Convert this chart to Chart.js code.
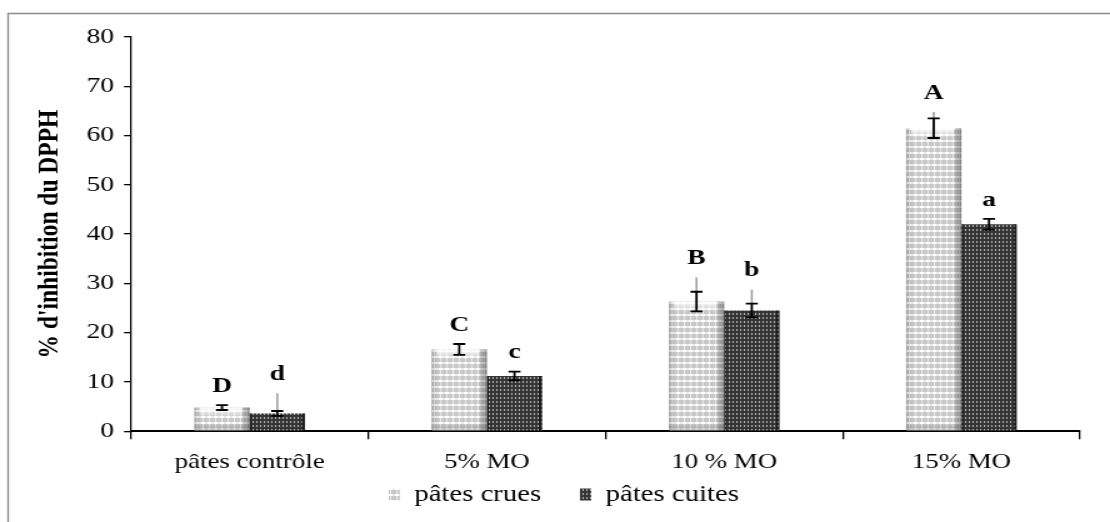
<!DOCTYPE html>
<html>
<head>
<title>DPPH</title>
<script src="https://cdn.jsdelivr.net/npm/chart.js@4.4.0/dist/chart.umd.min.js"></script>
<style>
  html, body { margin: 0; padding: 0; background: #fff; }
</style>
</head>
<body>
<!-- the source picture is stretched sideways, so the canvas is drawn narrow and widened by its inline style -->
<canvas id="dpph" width="888" height="522" style="width:1110px;height:522px"></canvas>
<script>
// data
var categories = ['pâtes contrôle', '5% MO', '10 % MO', '15% MO'];
var crues = [4.8, 16.6, 26.3, 61.5];
var cuites = [3.6, 11.2, 24.5, 42.0];
var errCrues = [0.5, 1.1, 2.0, 2.0];
var errCuites = [0.5, 0.9, 1.4, 1.1];
var greyCrues = [null, null, 31.2, 64.8];   // grey whisker end
var greyCuites = [7.7, null, 28.7, null];
var lettersCrues = ['D', 'C', 'B', 'A'];
var lettersCuites = ['d', 'c', 'b', 'a'];
var yTicks = [0, 10, 20, 30, 40, 50, 60, 70, 80];

var serif = '"Liberation Serif", "Times New Roman", serif';

function makePattern(kind) {
  var c = document.createElement('canvas');
  var g = c.getContext('2d');
  if (kind == 'crues') {
    c.width = 5; c.height = 6;
    g.fillStyle = '#c8c8c8'; g.fillRect(0, 0, 5, 6);
    g.fillStyle = '#e8e8e8';
    g.fillRect(2, 0, 1, 6); g.fillRect(0, 2, 5, 2);
    g.fillStyle = '#ffffff'; g.fillRect(1, 2, 3, 2);
  } else {
    c.width = 3; c.height = 4;
    g.fillStyle = '#353535'; g.fillRect(0, 0, 3, 4);
    g.fillStyle = '#b4b4b4'; g.fillRect(1, 1, 1, 2);
  }
  return g.createPattern(c, 'repeat');
}

// frame around the figure
var framePlugin = {
  id: 'frame',
  beforeDraw: function(chart) {
    var ctx = chart.ctx;
    ctx.save();
    ctx.strokeStyle = '#8a8a8a';
    ctx.lineWidth = 1.3;
    ctx.beginPath();
    ctx.moveTo(6.5, 540); ctx.lineTo(6.5, 13.5); ctx.lineTo(900, 13.5);
    ctx.stroke();
    ctx.restore();
  }
};

// bevel shading, error bars and letters
var barExtras = {
  id: 'barExtras',
  afterDatasetsDraw: function(chart) {
    var ctx = chart.ctx;
    var y = chart.scales.y;
    var errs = [errCrues, errCuites];
    var greys = [greyCrues, greyCuites];
    var letters = [lettersCrues, lettersCuites];
    ctx.save();
    for (var d = 0; d < 2; d++) {
      var meta = chart.getDatasetMeta(d);
      var vals = chart.data.datasets[d].data;
      meta.data.forEach(function(bar, i) {
        var half = bar.width / 2;
        var left = bar.x - half, right = bar.x + half;
        var top = bar.y, base = bar.base;
        if (d == 0) {
          var gr = ctx.createLinearGradient(right - 7, 0, right, 0);
          gr.addColorStop(0, 'rgba(0,0,0,0)');
          gr.addColorStop(1, 'rgba(0,0,0,0.4)');
          ctx.fillStyle = gr;
          ctx.fillRect(right - 7, top, 7, base - top);
          var gl = ctx.createLinearGradient(left, 0, left + 5, 0);
          gl.addColorStop(0, 'rgba(0,0,0,0.2)');
          gl.addColorStop(1, 'rgba(0,0,0,0)');
          ctx.fillStyle = gl;
          ctx.fillRect(left, top, 5, base - top);
          var gt = ctx.createLinearGradient(0, top, 0, top + 10);
          gt.addColorStop(0, 'rgba(255,255,255,0.95)');
          gt.addColorStop(1, 'rgba(255,255,255,0)');
          ctx.fillStyle = gt;
          ctx.fillRect(left + 4, top, bar.width - 10, Math.min(10, base - top));
          var gb = ctx.createLinearGradient(0, base - 7, 0, base);
          gb.addColorStop(0, 'rgba(0,0,0,0)');
          gb.addColorStop(1, 'rgba(0,0,0,0.22)');
          ctx.fillStyle = gb;
          ctx.fillRect(left, base - 7, bar.width, 7);
        } else {
          ctx.fillStyle = 'rgba(0,0,0,0.45)';
          ctx.fillRect(left, top, 1.5, base - top);
          ctx.fillRect(right - 2.5, top, 2.5, base - top);
        }
        var v = vals[i], e = errs[d][i];
        var yHi = y.getPixelForValue(v + e), yLo = y.getPixelForValue(v - e);
        var topMark = yHi;
        if (greys[d][i] != null) {
          var yg = y.getPixelForValue(greys[d][i]);
          ctx.strokeStyle = '#a0a0a0';
          ctx.lineWidth = 1.6;
          ctx.beginPath(); ctx.moveTo(bar.x, yg); ctx.lineTo(bar.x, yHi); ctx.stroke();
          topMark = yg;
        }
        ctx.strokeStyle = '#000';
        ctx.lineWidth = 1.8;
        ctx.beginPath();
        ctx.moveTo(bar.x, yHi); ctx.lineTo(bar.x, yLo);
        ctx.moveTo(bar.x - 4.8, yHi); ctx.lineTo(bar.x + 4.8, yHi);
        ctx.moveTo(bar.x - 4.8, yLo); ctx.lineTo(bar.x + 4.8, yLo);
        ctx.stroke();
        ctx.fillStyle = '#000';
        ctx.font = 'bold 22px ' + serif;
        ctx.textAlign = 'center';
        ctx.textBaseline = 'middle';
        ctx.fillText(letters[d][i], bar.x, topMark - 19);
      });
    }
    ctx.restore();
  }
};

var moveLegend = {
  id: 'moveLegend',
  afterLayout: function(chart) {
    var lg = chart.legend;
    lg.top -= 33; lg.bottom -= 33;
    lg.left += 8; lg.right += 8;
  }
};

var ctx = document.getElementById('dpph');
var chart = new Chart(ctx, {
  type: 'bar',
  data: {
    labels: categories,
    datasets: [
      { label: 'pâtes crues', data: crues, backgroundColor: makePattern('crues'), borderWidth: 0 },
      { label: 'pâtes cuites', data: cuites, backgroundColor: makePattern('cuites'), borderWidth: 0 }
    ]
  },
  options: {
    responsive: false,
    animation: false,
    events: [],
    datasets: { bar: { categoryPercentage: 0.466, barPercentage: 1 } },
    layout: { padding: { left: 22, right: 24, top: 37, bottom: -27 } },
    plugins: {
      tooltip: { enabled: false },
      legend: {
        position: 'bottom',
        labels: {
          font: { family: serif, size: 23 },
          color: '#000',
          boxWidth: 9,
          boxHeight: 12,
          padding: 31
        }
      }
    },
    scales: {
      x: {
        grid: { offset: true, drawOnChartArea: false, tickLength: 8, color: '#000', lineWidth: 1.3 },
        border: { color: '#000', width: 2 },
        ticks: { font: { family: serif, size: 21.5 }, color: '#000', padding: 10 }
      },
      y: {
        min: 0, max: 80,
        afterBuildTicks: function(axis) { axis.ticks = yTicks.map(function(v) { return { value: v }; }); },
        afterFit: function(axis) { axis.width = 82.8; },
        grid: { drawOnChartArea: false, tickLength: 5.6, color: '#000', lineWidth: 1.3 },
        border: { color: '#000', width: 1.3 },
        ticks: { font: { family: serif, size: 22 }, color: '#000', padding: 8 },
        title: { display: true, text: "% d'inhibition du DPPH", font: { family: serif, size: 23.5, weight: 'bold' }, color: '#000', padding: { top: 4, bottom: 0 } }
      }
    }
  },
  plugins: [framePlugin, barExtras, moveLegend]
});
</script>
</body>
</html>
